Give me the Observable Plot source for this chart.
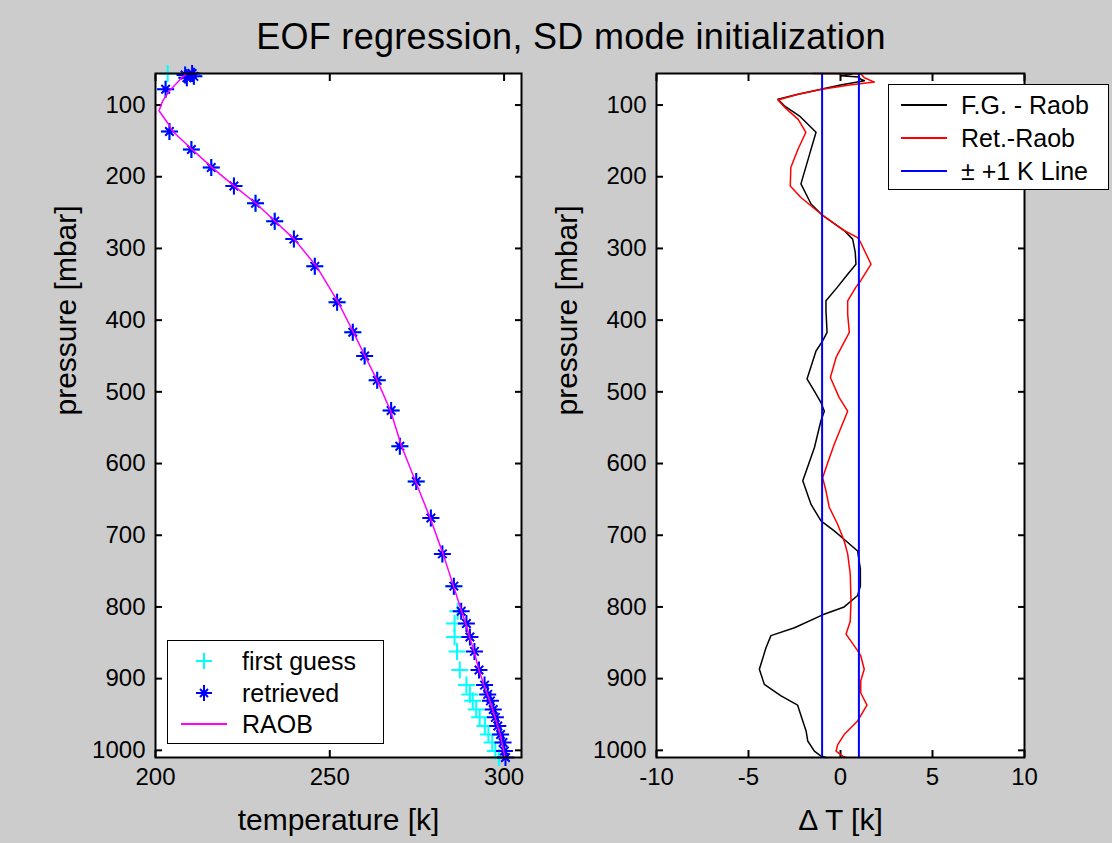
<!DOCTYPE html>
<html><head><meta charset="utf-8">
<script src="https://cdn.jsdelivr.net/npm/d3@7"></script>
<script src="https://cdn.jsdelivr.net/npm/@observablehq/plot@0.6"></script>
<style>
html,body{margin:0;padding:0;background:#cccccc;}
#wrap{position:relative;width:1112px;height:843px;background:#cccccc;overflow:hidden;font-family:"Liberation Sans",Arial,sans-serif;color:#000;}
#title{position:absolute;left:0;width:1142px;top:17px;text-align:center;font-size:36px;line-height:40px;white-space:nowrap;letter-spacing:0.3px;}
#leftPlot{position:absolute;left:0;top:0;}
#rightPlot{position:absolute;left:560px;top:0;}
.legend{position:absolute;background:#fff;border:1.5px solid #000;box-sizing:border-box;font-size:25px;}
.legend .row{position:absolute;left:0;height:30px;display:flex;align-items:center;width:100%;}
.legend .row svg{position:absolute;}
.legend .row span{position:absolute;white-space:nowrap;line-height:30px;}
</style>
</head><body>
<div id="wrap">
  <div id="title">EOF regression, SD mode initialization</div>
  <div id="leftPlot"></div>
  <div id="rightPlot"></div>
  <div id="legL" class="legend" style="left:167px;top:640px;width:217px;height:104px;"></div>
  <div id="legR" class="legend" style="left:888px;top:84px;width:221px;height:106px;"></div>
</div>
<script>
// ---------- data: left panel (temperature profiles) ----------
const pTicks = [100, 200, 300, 400, 500, 600, 700, 800, 900, 1000];
const tempTicks = [200, 250, 300];
const dTTicks = [-10, -5, 0, 5, 10];

const raobP = [56, 62, 70, 80, 95, 108, 125, 137, 162, 187, 213, 237, 262, 287, 325, 375, 417, 450, 484, 526, 576, 625, 676, 726, 771, 806, 823, 842, 862, 888, 909, 931, 954, 978, 1001, 1010];
const raobT = [209, 207.5, 206, 204, 202, 201, 203.5, 205, 210.5, 216.2, 222.6, 228.8, 234.3, 239.8, 246.2, 252.4, 256.8, 260.1, 263.6, 267.4, 270.6, 274.6, 278.8, 282.5, 285.5, 287.8, 289, 290.1, 291.4, 292.8, 294.2, 295.9, 297.4, 298.9, 299.9, 300.3];

const retLevels = [56, 58, 60, 62, 78, 137, 162, 187, 213, 237, 262, 287, 325, 375, 417, 450, 484, 526, 576, 625, 676, 726, 771, 806, 823, 842, 862, 888, 909, 922, 931, 943, 954, 966, 978, 989, 1001, 1010];
const retrievedT = [210.5, 208.5, 211, 209, 202.9, 204, 210.3, 216, 222.5, 228.7, 234.2, 239.7, 245.7, 252.1, 256.6, 260, 263.6, 267.6, 270.1, 274.8, 279, 282.3, 285.6, 287.7, 289.2, 290.2, 291.5, 292.8, 294.4, 295.3, 296.1, 296.9, 297.5, 298.2, 299.0, 299.7, 300.1, 300.4];
const firstGuessT = [203.5, 208.5, 211, 209, 202.9, 204, 210.3, 216, 222.5, 228.7, 234.2, 239.7, 245.7, 252.1, 256.6, 260, 263.6, 267.6, 270.1, 274.8, 279, 282.3, 285.6, 286.7, 285.8, 285.8, 286.5, 287.3, 289.2, 290.2, 291.0, 292.0, 293.0, 294.5, 295.5, 296.6, 297.5, 298.5];

// ---------- data: right panel (differences) ----------
const fgDiffP = [57, 59, 61, 64, 66, 72, 78, 85, 92, 101, 115, 138, 173, 210, 238, 254, 275, 287, 305, 322, 336, 355, 373, 387, 417, 429, 443, 482, 499, 515, 527, 540, 578, 624, 657, 680, 694, 708, 722, 747, 771, 784, 800, 811, 829, 840, 857, 887, 908, 924, 937, 959, 973, 987, 1001, 1008, 1010];
const fgDiffT = [0.6, 0.0, 1.0, 1.1, 1.3, 0.0, -1.06, -2.3, -3.4, -3.05, -2.24, -1.33, -1.73, -2.15, -1.6, -0.97, 0.2, 0.66, 0.8, 0.84, 0.39, -0.2, -0.79, -0.79, -0.73, -0.97, -1.33, -1.82, -1.42, -1.06, -0.88, -1.06, -1.42, -2.05, -1.6, -1.06, -0.34, 0.3, 0.93, 1.08, 1.08, 0.93, 0.2, -0.97, -2.5, -3.78, -4.05, -4.41, -4.14, -3.23, -2.33, -2.05, -1.87, -1.78, -1.42, -1.06, -0.79];
const retDiffP = [56, 56.3, 62, 68, 72, 78, 85, 93, 104, 120, 138, 161, 187, 213, 229, 252, 275, 285, 292, 322, 345, 354, 373, 392, 417, 452, 480, 508, 527, 573, 606, 620, 638, 661, 685, 708, 726, 754, 792, 820, 838, 861, 868, 887, 903, 920, 937, 959, 978, 992, 1001, 1008, 1010];
const retDiffT = [-1.5, 1.1, 1.3, 1.84, 0.5, -1.0, -2.3, -3.4, -3.0, -2.3, -1.88, -2.3, -2.7, -2.73, -2.15, -1.06, 0.2, 0.93, 1.1, 1.66, 1.1, 0.84, 0.39, 0.39, 0.48, -0.24, -0.55, -0.07, 0.39, -0.34, -0.79, -0.97, -0.79, -0.61, -0.15, 0.2, 0.39, 0.53, 0.57, 0.53, 0.3, 0.93, 1.1, 1.29, 1.1, 1.1, 1.44, 0.93, 0.2, -0.15, -0.24, 0.12, 0.3];
const pmLines = [-1, 1];

// ---------- tables ----------
const raob = raobP.map((p, i) => ({p, t: raobT[i]}));
const retrieved = retLevels.map((p, i) => ({p, t: retrievedT[i]}));
const firstGuess = retLevels.map((p, i) => ({p, t: firstGuessT[i]}));
const fgDiff = fgDiffP.map((p, i) => ({p, d: fgDiffT[i]}));
const retDiff = retDiffP.map((p, i) => ({p, d: retDiffT[i]}));

// MATLAB-like marker shapes
const plusSym = {draw(ctx, size) {
  const r = Math.sqrt(size / Math.PI);
  ctx.moveTo(-r, 0); ctx.lineTo(r, 0); ctx.moveTo(0, -r); ctx.lineTo(0, r);
}};
const starSym = {draw(ctx, size) {
  const r = Math.sqrt(size / Math.PI), d = r * 0.5;
  ctx.moveTo(-r, 0); ctx.lineTo(r, 0); ctx.moveTo(0, -r); ctx.lineTo(0, r);
  ctx.moveTo(-d, -d); ctx.lineTo(d, d); ctx.moveTo(-d, d); ctx.lineTo(d, -d);
}};

const FONT = '"Liberation Sans", Arial, sans-serif';
const fmt = d => String(d);
const common = {
  height: 843, marginTop: 73, marginBottom: 86,
  style: {background: "transparent", fontFamily: FONT, fontSize: "24px", color: "black", overflow: "visible"},
  y: {domain: [56, 1010], reverse: true}
};
function axes(xTicks) {
  return [
    Plot.axisX({ticks: xTicks, anchor: "bottom", tickSize: -7, tickPadding: 17, strokeWidth: 2, tickFormat: fmt, label: null}),
    Plot.axisX({ticks: xTicks, anchor: "top", tickSize: -7, strokeWidth: 2, tickFormat: () => "", label: null}),
    Plot.axisY({ticks: pTicks, anchor: "left", tickSize: -7, tickPadding: 17, strokeWidth: 2, tickFormat: fmt, label: null}),
    Plot.axisY({ticks: pTicks, anchor: "right", tickSize: -7, strokeWidth: 2, tickFormat: () => "", label: null})
  ];
}

const left = Plot.plot({
  ...common,
  width: 560, marginLeft: 155, marginRight: 39,
  x: {domain: [200, 305]},
  marks: [
    Plot.frame({fill: "white", stroke: "none"}),
    ...axes(tempTicks),
    Plot.dot(firstGuess, {x: "t", y: "p", symbol: plusSym, r: 8.5, stroke: "#00ffff", fill: "none", strokeWidth: 2}),
    Plot.dot(retrieved, {x: "t", y: "p", symbol: starSym, r: 8.5, stroke: "#0000ff", fill: "none", strokeWidth: 2}),
    Plot.line(raob, {x: "t", y: "p", stroke: "#ff00ff", strokeWidth: 1.5}),
    Plot.frame({stroke: "black", strokeWidth: 2}),
    Plot.text(["temperature [k]"], {frameAnchor: "bottom", dy: 63, fontSize: 30, lineAnchor: "middle"}),
    Plot.text(["pressure [mbar]"], {frameAnchor: "left", dx: -89, rotate: -90, fontSize: 30, lineAnchor: "middle"})
  ]
});
document.getElementById("leftPlot").appendChild(left);

const right = Plot.plot({
  ...common,
  width: 552, marginLeft: 96, marginRight: 88,
  x: {domain: [-10, 10]},
  marks: [
    Plot.frame({fill: "white", stroke: "none"}),
    ...axes(dTTicks),
    Plot.line(fgDiff, {x: "d", y: "p", stroke: "black", strokeWidth: 1.5}),
    Plot.line(retDiff, {x: "d", y: "p", stroke: "#ff0000", strokeWidth: 1.5}),
    Plot.ruleX(pmLines, {stroke: "#0000ff", strokeWidth: 2}),
    Plot.frame({stroke: "black", strokeWidth: 2}),
    Plot.text(["\u0394 T [k]"], {frameAnchor: "bottom", dy: 63, fontSize: 30, lineAnchor: "middle"}),
    Plot.text(["pressure [mbar]"], {frameAnchor: "left", dx: -89, rotate: -90, fontSize: 30, lineAnchor: "middle"})
  ]
});
document.getElementById("rightPlot").appendChild(right);

// ---------- legends ----------
const legLItems = [
  {label: "first guess", kind: "plus", color: "#00ffff"},
  {label: "retrieved", kind: "star", color: "#0000ff"},
  {label: "RAOB", kind: "line", color: "#ff00ff"}
];
const legRItems = [
  {label: "F.G. - Raob", kind: "line", color: "black"},
  {label: "Ret.-Raob", kind: "line", color: "#ff0000"},
  {label: "\u00b1 +1 K Line", kind: "line", color: "#0000ff"}
];
function swatch(kind, color) {
  if (kind === "line") return `<line x1="0" x2="46" y1="15" y2="15" stroke="${color}" stroke-width="2"/>`;
  let s = `<path d="M15,15h16M23,7v16" stroke="${color}" stroke-width="2" fill="none"/>`;
  if (kind === "star") s += `<path d="M19,11l8,8M19,19l8,-8" stroke="${color}" stroke-width="2" fill="none"/>`;
  return s;
}
function buildLegend(id, items, top0, step, swX, txtX) {
  const el = document.getElementById(id);
  items.forEach((it, i) => {
    const row = document.createElement("div");
    row.className = "row";
    row.style.top = (top0 + i * step) + "px";
    row.innerHTML = `<svg width="48" height="30" style="left:${swX}px;top:0">${swatch(it.kind, it.color)}</svg><span style="left:${txtX}px;top:0">${it.label}</span>`;
    el.appendChild(row);
  });
}
buildLegend("legL", legLItems, 5, 31.5, 13, 74);
buildLegend("legR", legRItems, 5, 33, 12, 72);
</script>
</body></html>
